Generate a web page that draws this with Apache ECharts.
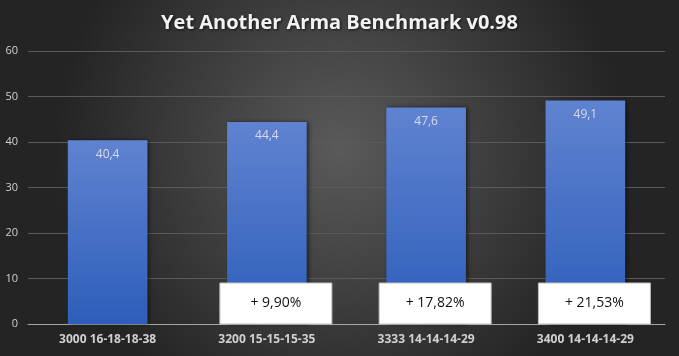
<!DOCTYPE html>
<html><head><meta charset="utf-8">
<script src="https://cdn.jsdelivr.net/npm/echarts@6/dist/echarts.min.js"></script>
<style>html,body{margin:0;padding:0;background:#333}#c{width:679px;height:356px}</style>
</head><body><div id="c"></div>
<script>
const categories = ['3000 16-18-18-38', '3200 15-15-15-35', '3333 14-14-14-29', '3400 14-14-14-29'];
const values = [40.4, 44.4, 47.6, 49.1];
const gainLabels = ['', '+ 9,90%', '+ 17,82%', '+ 21,53%'];
const yTicks = {min: 0, max: 60, interval: 10};

const boxData = gainLabels.map((t, i) => [i, t]).filter(d => d[1] !== '');

const chart = echarts.init(document.getElementById('c'));
chart.setOption({
  animation: false,
  backgroundColor: {type: 'radial', x: 0.5, y: 0.42, r: 0.8,
    colorStops: [{offset: 0, color: '#5a5a5a'}, {offset: 1, color: '#242424'}]},
  title: {text: 'Yet Another Arma Benchmark v0.98', left: 'center', top: 8,
    textStyle: {color: '#f2f2f2', fontFamily: 'Open Sans', fontWeight: 'bold', fontSize: 20,
      textShadowColor: 'rgba(0,0,0,0.7)', textShadowBlur: 3, textShadowOffsetX: 1, textShadowOffsetY: 1}},
  grid: {left: 28, right: 14, top: 51, bottom: 32},
  xAxis: {type: 'category', data: categories,
    axisLine: {lineStyle: {color: '#a6a6a6', width: 1}}, axisTick: {show: false},
    axisLabel: {color: '#d0d0d0', fontWeight: 'bold', fontSize: 12, fontFamily: 'Open Sans', margin: 10}},
  yAxis: {type: 'value', min: yTicks.min, max: yTicks.max, interval: yTicks.interval,
    axisLine: {show: false}, axisTick: {show: false},
    axisLabel: {color: '#d0d0d0', fontSize: 11, fontFamily: 'Open Sans', margin: 10},
    splitLine: {lineStyle: {color: '#5a5a5a', width: 1}}},
  series: [
    {type: 'bar', data: values, barWidth: '50%',
      itemStyle: {color: {type: 'linear', x: 0, y: 0, x2: 0, y2: 1,
        colorStops: [{offset: 0, color: '#6083d0'}, {offset: 1, color: '#2d5eba'}]},
        shadowColor: 'rgba(0,0,0,0.5)', shadowBlur: 4, shadowOffsetX: 2, shadowOffsetY: 0},
      label: {show: true, position: 'insideTop', distance: 8, color: '#d6dcea', fontSize: 12,
        fontFamily: 'Open Sans', formatter: p => String(p.value).replace('.', ',')}},
    {type: 'custom', data: boxData, z: 5,
      renderItem: (params, api) => {
        const p = api.coord([api.value(0), 0]);
        const w = 112, h = 41;
        return {type: 'group', children: [
          {type: 'rect', shape: {x: p[0] - 47, y: p[1] - h, width: w, height: h},
            style: {fill: '#ffffff', stroke: '#bfbfbf', lineWidth: 1}},
          {type: 'text', x: p[0] - 47 + w / 2, y: p[1] - h / 2,
            style: {text: boxData[params.dataIndex][1], fill: '#111', fontSize: 14, fontFamily: 'Open Sans',
              align: 'center', verticalAlign: 'middle'}}
        ]};
      }}
  ]
});
</script></body></html>
